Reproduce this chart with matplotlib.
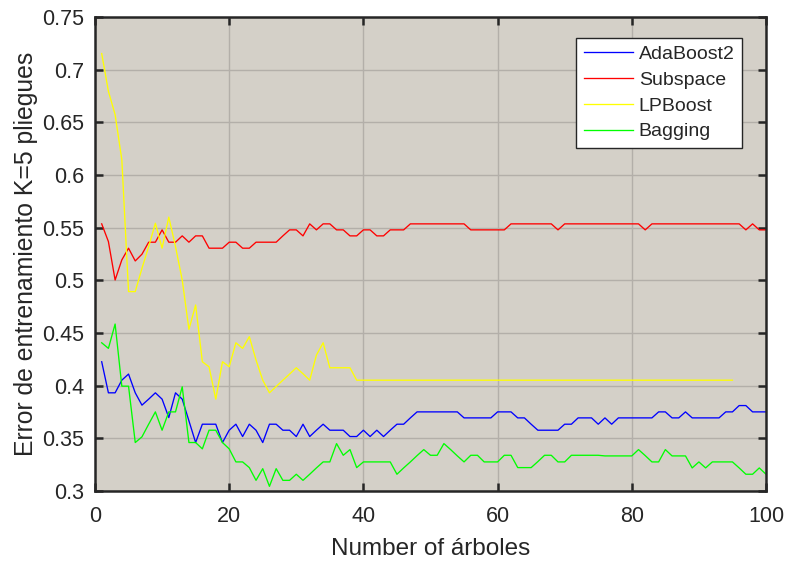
import numpy as np
import matplotlib
matplotlib.use("Agg")
import matplotlib.pyplot as plt

plt.rcParams['font.family'] = ['Liberation Sans', 'DejaVu Sans']

n_trees = np.arange(1, 101)

adaboost2 = [
    0.4227, 0.3932, 0.3932, 0.4052, 0.4110, 0.3932, 0.3815, 0.3872, 0.3932, 0.3872,
    0.3697, 0.3932, 0.3872, 0.3666, 0.3460, 0.3634, 0.3634, 0.3634, 0.3460, 0.3577,
    0.3634, 0.3517, 0.3634, 0.3577, 0.3460, 0.3634, 0.3634, 0.3577, 0.3577, 0.3517,
    0.3634, 0.3517, 0.3577, 0.3634, 0.3577, 0.3577, 0.3577, 0.3517, 0.3517, 0.3577,
    0.3517, 0.3577, 0.3517, 0.3577, 0.3634, 0.3634, 0.3694, 0.3751, 0.3751, 0.3751,
    0.3751, 0.3751, 0.3751, 0.3751, 0.3694, 0.3694, 0.3694, 0.3694, 0.3694, 0.3751,
    0.3751, 0.3751, 0.3694, 0.3694, 0.3634, 0.3577, 0.3577, 0.3577, 0.3577, 0.3634,
    0.3634, 0.3694, 0.3694, 0.3694, 0.3634, 0.3694, 0.3634, 0.3694, 0.3694, 0.3694,
    0.3694, 0.3694, 0.3694, 0.3751, 0.3751, 0.3694, 0.3694, 0.3751, 0.3694, 0.3694,
    0.3694, 0.3694, 0.3694, 0.3751, 0.3751, 0.3811, 0.3811, 0.3751, 0.3751, 0.3751,
]

subspace = [
    0.5536, 0.5368, 0.5003, 0.5194, 0.5305, 0.5184, 0.5248, 0.5362, 0.5362, 0.5479,
    0.5362, 0.5362, 0.5422, 0.5362, 0.5422, 0.5422, 0.5305, 0.5305, 0.5305, 0.5362,
    0.5362, 0.5305, 0.5305, 0.5362, 0.5362, 0.5362, 0.5362, 0.5422, 0.5479, 0.5479,
    0.5422, 0.5536, 0.5479, 0.5536, 0.5536, 0.5479, 0.5479, 0.5422, 0.5422, 0.5479,
    0.5479, 0.5422, 0.5422, 0.5479, 0.5479, 0.5479, 0.5536, 0.5536, 0.5536, 0.5536,
    0.5536, 0.5536, 0.5536, 0.5536, 0.5536, 0.5479, 0.5479, 0.5479, 0.5479, 0.5479,
    0.5479, 0.5536, 0.5536, 0.5536, 0.5536, 0.5536, 0.5536, 0.5536, 0.5479, 0.5536,
    0.5536, 0.5536, 0.5536, 0.5536, 0.5536, 0.5536, 0.5536, 0.5536, 0.5536, 0.5536,
    0.5536, 0.5479, 0.5536, 0.5536, 0.5536, 0.5536, 0.5536, 0.5536, 0.5536, 0.5536,
    0.5536, 0.5536, 0.5536, 0.5536, 0.5536, 0.5536, 0.5479, 0.5536, 0.5479, 0.5479,
]

lpboost = [
    0.7153, 0.6795, 0.6573, 0.6145, 0.4893, 0.4893, 0.5114, 0.5320, 0.5542, 0.5305,
    0.5600, 0.5320, 0.5003, 0.4534, 0.4766, 0.4227, 0.4179, 0.3872, 0.4227, 0.4179,
    0.4407, 0.4354, 0.4465, 0.4243, 0.4052, 0.3932, 0.3992, 0.4052, 0.4110, 0.4170,
    0.4113, 0.4052, 0.4290, 0.4407, 0.4170, 0.4170, 0.4170, 0.4170, 0.4052, 0.4052,
    0.4052, 0.4052, 0.4052, 0.4052, 0.4052, 0.4052, 0.4052, 0.4052, 0.4052, 0.4052,
    0.4052, 0.4052, 0.4052, 0.4052, 0.4052, 0.4052, 0.4052, 0.4052, 0.4052, 0.4052,
    0.4052, 0.4052, 0.4052, 0.4052, 0.4052, 0.4052, 0.4052, 0.4052, 0.4052, 0.4052,
    0.4052, 0.4052, 0.4052, 0.4052, 0.4052, 0.4052, 0.4052, 0.4052, 0.4052, 0.4052,
    0.4052, 0.4052, 0.4052, 0.4052, 0.4052, 0.4052, 0.4052, 0.4052, 0.4052, 0.4052,
    0.4052, 0.4052, 0.4052, 0.4052, 0.4052,
]

bagging = [
    0.4407, 0.4354, 0.4585, 0.3995, 0.3995, 0.3460, 0.3514, 0.3634, 0.3751, 0.3577,
    0.3751, 0.3751, 0.3989, 0.3460, 0.3460, 0.3400, 0.3577, 0.3577, 0.3460, 0.3400,
    0.3276, 0.3276, 0.3222, 0.3101, 0.3212, 0.3044, 0.3212, 0.3101, 0.3101, 0.3159,
    0.3101, 0.3159, 0.3219, 0.3276, 0.3276, 0.3450, 0.3339, 0.3393, 0.3222, 0.3276,
    0.3276, 0.3276, 0.3276, 0.3276, 0.3159, 0.3219, 0.3276, 0.3336, 0.3393, 0.3339,
    0.3339, 0.3450, 0.3393, 0.3333, 0.3276, 0.3339, 0.3339, 0.3276, 0.3276, 0.3276,
    0.3339, 0.3339, 0.3222, 0.3222, 0.3222, 0.3279, 0.3339, 0.3339, 0.3276, 0.3276,
    0.3339, 0.3339, 0.3339, 0.3339, 0.3339, 0.3333, 0.3333, 0.3333, 0.3333, 0.3333,
    0.3393, 0.3336, 0.3276, 0.3276, 0.3393, 0.3333, 0.3333, 0.3333, 0.3219, 0.3276,
    0.3219, 0.3276, 0.3276, 0.3276, 0.3276, 0.3219, 0.3159, 0.3159, 0.3219, 0.3159,
]

series = [
    ("AdaBoost2", adaboost2, "#0000ff"),
    ("Subspace", subspace, "#ff0000"),
    ("LPBoost", lpboost, "#ffff00"),
    ("Bagging", bagging, "#00ff00"),
]

x_ticks = [0, 20, 40, 60, 80, 100]
y_ticks = [0.3, 0.35, 0.4, 0.45, 0.5, 0.55, 0.6, 0.65, 0.7, 0.75]
y_tick_labels = ["0.3", "0.35", "0.4", "0.45", "0.5", "0.55", "0.6", "0.65", "0.7", "0.75"]

text_color = "#262626"

fig = plt.figure(figsize=(7.85, 5.61), dpi=100)
ax = fig.add_axes([0.121, 0.1248, 0.8548, 0.8449])
ax.set_facecolor("#d4d0c8")

for name, vals, color in series:
    ax.plot(n_trees[:len(vals)], vals, color=color, lw=0.95, label=name)

ax.set_xlim(0, 100)
ax.set_ylim(0.3, 0.75)
ax.set_xticks(x_ticks)
ax.set_yticks(y_ticks)
ax.set_yticklabels(y_tick_labels)

ax.grid(True, color="#b3afa9", lw=1.0)
ax.set_axisbelow(True)

for sp in ax.spines.values():
    sp.set_color(text_color)
    sp.set_linewidth(1.8)

ax.tick_params(direction="in", length=6, width=1.8, colors=text_color,
               labelsize=15.5, top=True, right=True)
ax.tick_params(axis="y", pad=8)
ax.tick_params(axis="x", pad=11)

ax.set_xlabel("Number of árboles", fontsize=17.5, color=text_color, labelpad=8)
ax.set_ylabel("Error de entrenamiento K=5 pliegues", fontsize=17.8, color=text_color, labelpad=3)

leg = ax.legend(loc="upper right", bbox_to_anchor=(0.9642, 0.9557), fontsize=14,
                frameon=True, fancybox=False, framealpha=1.0, edgecolor="#262626",
                handlelength=2.52, handletextpad=0.31, labelspacing=0.42,
                borderpad=0.38, borderaxespad=0.0)
leg.get_frame().set_linewidth(1.0)
for t in leg.get_texts():
    t.set_color(text_color)

fig.savefig("out.png", dpi=100, facecolor="white")
